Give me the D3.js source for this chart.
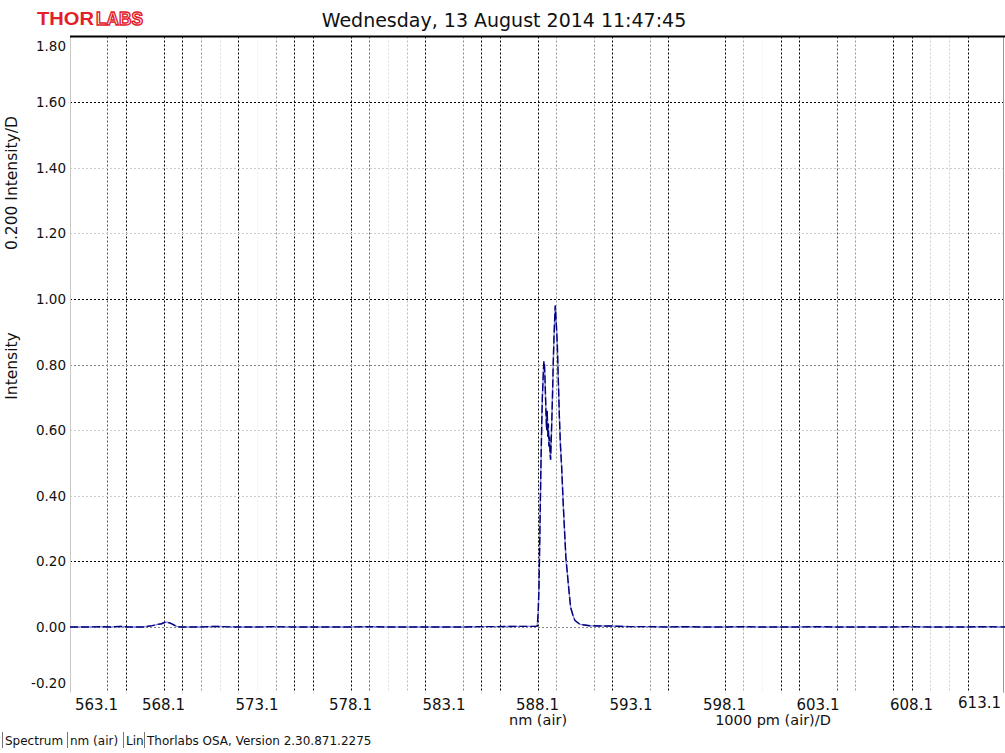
<!DOCTYPE html>
<html>
<head>
<meta charset="utf-8">
<script src="https://cdn.jsdelivr.net/npm/d3@7"></script>
<style>
  html, body { margin: 0; padding: 0; background: #fff; }
  svg { display: block; font-family: "DejaVu Sans", Verdana, sans-serif; }
</style>
</head>
<body>
<svg id="chart" width="1005" height="753"></svg>
<script>
// ---------------- DATA ----------------
const titleText = "Wednesday, 13 August 2014 11:47:45";
const yAxisTitleTop = "0.200 Intensity/D";
const yAxisTitleBottom = "Intensity";
const xUnitLabel = "nm (air)";
const xDivLabel = "1000 pm (air)/D";
const footerItems = ["Spectrum", "nm (air)", "Lin", "Thorlabs OSA, Version 2.30.871.2275"];

const xDomain = [563.1, 613.1];
const yDomain = [-0.2, 1.8];
const xTickValues = [563.1, 568.1, 573.1, 578.1, 583.1, 588.1, 593.1, 598.1, 603.1, 608.1, 613.1];
const xTickLabels = ["563.1", "568.1", "573.1", "578.1", "583.1", "588.1", "593.1", "598.1", "603.1", "608.1", "613.1"];
const yTickValues = [-0.2, 0.0, 0.2, 0.4, 0.6, 0.8, 1.0, 1.2, 1.4, 1.6, 1.8];
const yTickLabels = ["-0.20", "0.00", "0.20", "0.40", "0.60", "0.80", "1.00", "1.20", "1.40", "1.60", "1.80"];

// spectrum (wavelength nm, intensity)
const wavelength = [
  563.1, 564.0, 564.8, 565.3, 565.8, 566.2, 567.0, 567.5, 567.8, 568.0, 568.2, 568.4, 568.6, 568.8,
  569.0, 570.0, 570.9, 571.3, 572.0, 573.0, 574.0, 575.0, 576.0, 577.0, 578.0, 579.0, 580.0,
  581.0, 582.0, 583.0, 584.0, 585.0, 586.0, 587.0, 588.0, 588.09,
  588.14, 588.18, 588.23, 588.28, 588.32, 588.36, 588.40, 588.44, 588.47, 588.50, 588.53, 588.56,
  588.59, 588.62, 588.65, 588.68, 588.71, 588.74, 588.77, 588.80, 588.83, 588.86, 588.90, 588.94,
  588.98, 589.02, 589.05, 589.08, 589.11, 589.16, 589.21, 589.27, 589.33, 589.39, 589.48, 589.54,
  589.62, 589.75, 589.87, 590.0, 590.1, 590.37, 590.9, 591.4, 592.0, 593.0, 594.0, 595.0, 596.0,
  597.0, 598.0, 599.0, 600.0, 601.0, 602.0, 603.0, 604.0, 605.0, 606.0, 607.0, 608.0, 609.0,
  610.0, 611.0, 612.0, 613.1
];
const intensity = [
  0.000, 0.000, 0.001, 0.000, 0.002, 0.000, 0.000, 0.004, 0.008, 0.010, 0.015, 0.013, 0.008, 0.002,
  0.000, 0.000, 0.002, 0.001, 0.000, 0.000, 0.001, 0.000, 0.000, 0.000, 0.000, 0.001, 0.000,
  0.000, 0.000, 0.000, 0.000, 0.001, 0.001, 0.002, 0.002, 0.003,
  0.05, 0.12, 0.30, 0.48, 0.60, 0.70, 0.76, 0.81, 0.80, 0.76, 0.70, 0.64,
  0.60, 0.66, 0.58, 0.62, 0.55, 0.58, 0.53, 0.51, 0.56, 0.62, 0.70, 0.80,
  0.88, 0.94, 0.98, 0.95, 0.92, 0.86, 0.76, 0.64, 0.55, 0.49, 0.37, 0.30,
  0.21, 0.13, 0.06, 0.035, 0.02, 0.008, 0.004, 0.003, 0.003, 0.001, 0.001, 0.000, 0.001,
  0.000, 0.000, 0.001, 0.000, 0.000, 0.000, 0.001, 0.000, 0.000, 0.000, 0.000, 0.001, 0.000,
  0.000, 0.000, 0.001, 0.000
];

// ---------------- STYLE ----------------
// shade of each 1 nm vertical gridline (index 0 = left edge ... 50 = right edge); null = not visible
const vGridShade = [
  null, null, "#555", "#000", null, "#000", "#000", "#999", "#ddd", "#000",
  "#eee", "#999", "#000", "#000", null, "#000", "#666", "#ddd", "#bbb", "#000",
  null, "#888", "#000", "#000", null, "#000", "#999", null, "#999", "#000",
  null, "#999", "#000", null, null, "#000", "#aaa", "#eee", "#000", "#000",
  null, "#555", "#999", null, "#000", "#000", "#ccc", "#ccc", "#000", null, null
];
const hGridShade = { "-0.2": null, "0": "#888", "0.2": "#000", "0.4": "#ccc", "0.6": "#ccc",
  "0.8": "#888", "1": "#000", "1.2": "#ccc", "1.4": "#ccc", "1.6": "#000", "1.8": null };

const W = 1005, H = 753;
const plot = { left: 70, right: 1005, top: 36.5, bottom: 692.6 };

const svg = d3.select("#chart");
svg.append("rect").attr("width", W).attr("height", H).attr("fill", "#fff");

const x = d3.scaleLinear().domain(xDomain).range([plot.left, plot.right]);
const y = d3.scaleLinear().domain(yDomain).range([plot.bottom, plot.top]);

// vertical gridlines, one per nm
const gridG = svg.append("g");
const vVals = d3.range(0, 51).map(k => xDomain[0] + k);
vVals.forEach((v, k) => {
  const c = vGridShade[k];
  if (!c) return;
  const px = Math.round(x(v)) + 0.5;
  gridG.append("line")
    .attr("x1", px).attr("x2", px)
    .attr("y1", plot.top).attr("y2", plot.bottom)
    .attr("stroke", c).attr("stroke-width", 1)
    .attr("stroke-dasharray", "2,2");
});

// horizontal gridlines
yTickValues.forEach(v => {
  const key = String(+v.toFixed(1));
  const c = hGridShade[key];
  if (!c) return;
  const py = Math.round(y(v)) + 0.5;
  gridG.append("line")
    .attr("x1", plot.left).attr("x2", plot.right)
    .attr("y1", py).attr("y2", py)
    .attr("stroke", c).attr("stroke-width", 1)
    .attr("stroke-dasharray", "2,2");
});

// left axis line (light gray), right border, top border
svg.append("line").attr("x1", plot.left + 0.5).attr("x2", plot.left + 0.5)
  .attr("y1", plot.top).attr("y2", plot.bottom).attr("stroke", "#c8c8c8");
svg.append("line").attr("x1", plot.right - 1.5).attr("x2", plot.right - 1.5)
  .attr("y1", plot.top).attr("y2", plot.bottom).attr("stroke", "#999");
svg.append("line").attr("x1", plot.left).attr("x2", plot.right)
  .attr("y1", plot.top).attr("y2", plot.top).attr("stroke", "#000").attr("stroke-width", 2);

// y tick labels
svg.append("g").selectAll("text").data(yTickValues).join("text")
  .attr("x", 66)
  .attr("y", (d, i) => {
    let py = y(d) + 5;
    if (i === yTickValues.length - 1) py += 9.5;
    if (i === 0) py -= 9.5;
    return py;
  })
  .attr("text-anchor", "end")
  .attr("font-size", 13.5)
  .attr("fill", "#111")
  .text((d, i) => yTickLabels[i]);

// x tick labels
svg.append("g").selectAll("text").data(xTickValues).join("text")
  .attr("x", (d, i) => {
    if (i === 0) return x(d) + 5;
    if (i === xTickValues.length - 1) return x(d) - 4;
    return x(d);
  })
  .attr("y", (d, i) => i === xTickValues.length - 1 ? 708 : 710)
  .attr("text-anchor", (d, i) => i === 0 ? "start" : (i === xTickValues.length - 1 ? "end" : "middle"))
  .attr("font-size", 15)
  .attr("fill", "#111")
  .text((d, i) => xTickLabels[i]);

// x unit labels
svg.append("text").attr("x", 538).attr("y", 725).attr("text-anchor", "middle")
  .attr("font-size", 14.5).attr("fill", "#111").text(xUnitLabel);
svg.append("text").attr("x", 773).attr("y", 725).attr("text-anchor", "middle")
  .attr("font-size", 14.5).attr("fill", "#111").text(xDivLabel);

// y axis titles
svg.append("text").attr("transform", "translate(17,183) rotate(-90)")
  .attr("text-anchor", "middle").attr("font-size", 15.5).attr("fill", "#111").text(yAxisTitleTop);
svg.append("text").attr("transform", "translate(17,366) rotate(-90)")
  .attr("text-anchor", "middle").attr("font-size", 15.5).attr("fill", "#111").text(yAxisTitleBottom);

// title
svg.append("text").attr("x", 504).attr("y", 27).attr("text-anchor", "middle")
  .attr("font-size", 19).attr("fill", "#111").text(titleText);

// logo
const logo = svg.append("g").attr("font-family", "Liberation Sans, Arial, sans-serif")
  .attr("font-weight", "bold").attr("font-size", 19);
logo.append("text").attr("x", 37).attr("y", 25)
  .attr("fill", "#e3202a")
  .attr("textLength", 57).attr("lengthAdjust", "spacingAndGlyphs").text("THOR");
logo.append("text").attr("x", 96).attr("y", 25)
  .attr("fill", "#fff").attr("stroke", "#e3202a").attr("stroke-width", 1.5)
  .attr("textLength", 47).attr("lengthAdjust", "spacingAndGlyphs").text("LABS");

// spectrum line
const pts = wavelength.map((w, i) => [w, intensity[i]]);
const line = d3.line().x(d => x(d[0])).y(d => y(d[1]));
svg.append("path").datum(pts).attr("d", line)
  .attr("fill", "none").attr("stroke", "#8c8cd2").attr("stroke-width", 1.4);
svg.append("path").datum(pts).attr("d", line)
  .attr("fill", "none").attr("stroke", "#00007f").attr("stroke-width", 1.4)
  .attr("stroke-dasharray", "8,3");

// footer
const footer = svg.append("g").attr("font-size", 12).attr("fill", "#111");
const footerX = [2.5, 67.5, 123.5, 144.5];
footerItems.forEach((t, i) => {
  footer.append("line").attr("x1", footerX[i]).attr("x2", footerX[i])
    .attr("y1", 732).attr("y2", 748).attr("stroke", "#777").attr("stroke-width", 1);
  footer.append("text").attr("x", footerX[i] + 2.5).attr("y", 745).text(t);
});
</script>
</body>
</html>
